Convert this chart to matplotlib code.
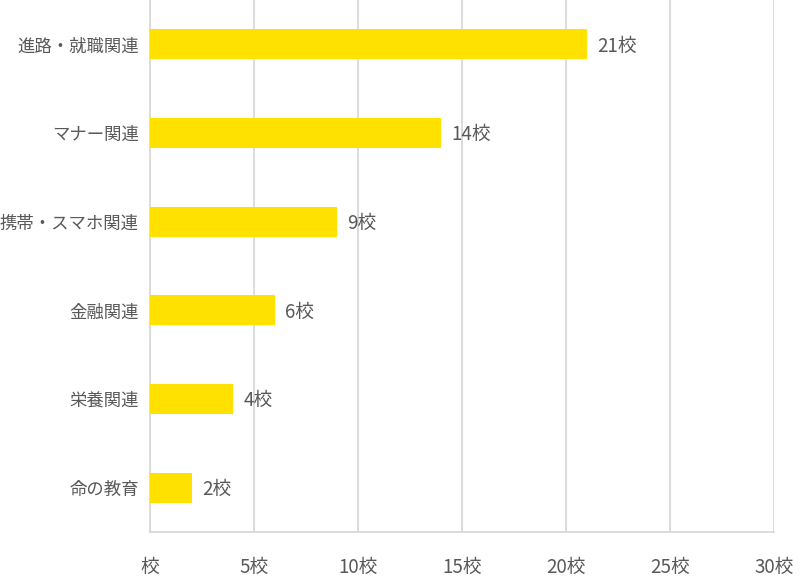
import matplotlib
matplotlib.use("Agg")
import matplotlib.pyplot as plt

plt.rcParams['font.family'] = ['Noto Sans CJK JP', 'DejaVu Sans']

categories = ["進路・就職関連", "マナー関連", "携帯・スマホ関連", "金融関連", "栄養関連", "命の教育"]
values = [21, 14, 9, 6, 4, 2]
xticks = [0, 5, 10, 15, 20, 25, 30]
xticklabels = ["校", "5校", "10校", "15校", "20校", "25校", "30校"]

W, H = 809, 585
fig = plt.figure(figsize=(W/100, H/100), dpi=100)
ax = fig.add_axes([150/W, 1-532/H, (774-150)/W, 532/H])

txt = "#595959"
grid = "#D9D9D9"
pos = list(range(len(categories)))
ax.barh(pos, values, height=0.34, color="#FFE100", zorder=3)
for p, v in zip(pos, values):
    ax.text(v + 0.5, p + 0.02, f"{v}校", va="center", ha="left", fontsize=13.5, color=txt)

ax.set_ylim(len(categories)-0.5, -0.5)
ax.set_xlim(0, 30)
ax.set_yticks(pos)
ax.set_yticklabels(categories, fontsize=12.5, color=txt)
ax.set_xticks(xticks)
ax.set_xticklabels(xticklabels, fontsize=13.5, color=txt)
ax.tick_params(axis='both', length=0)
ax.tick_params(axis='y', pad=8)
ax.tick_params(axis='x', pad=18)
ax.xaxis.grid(True, color=grid, linewidth=1.3, zorder=0)
for s in ['top', 'right']:
    ax.spines[s].set_visible(False)
for s in ['left', 'bottom']:
    ax.spines[s].set_color(grid)
    ax.spines[s].set_linewidth(1.3)

fig.savefig("out.png", dpi=100)
